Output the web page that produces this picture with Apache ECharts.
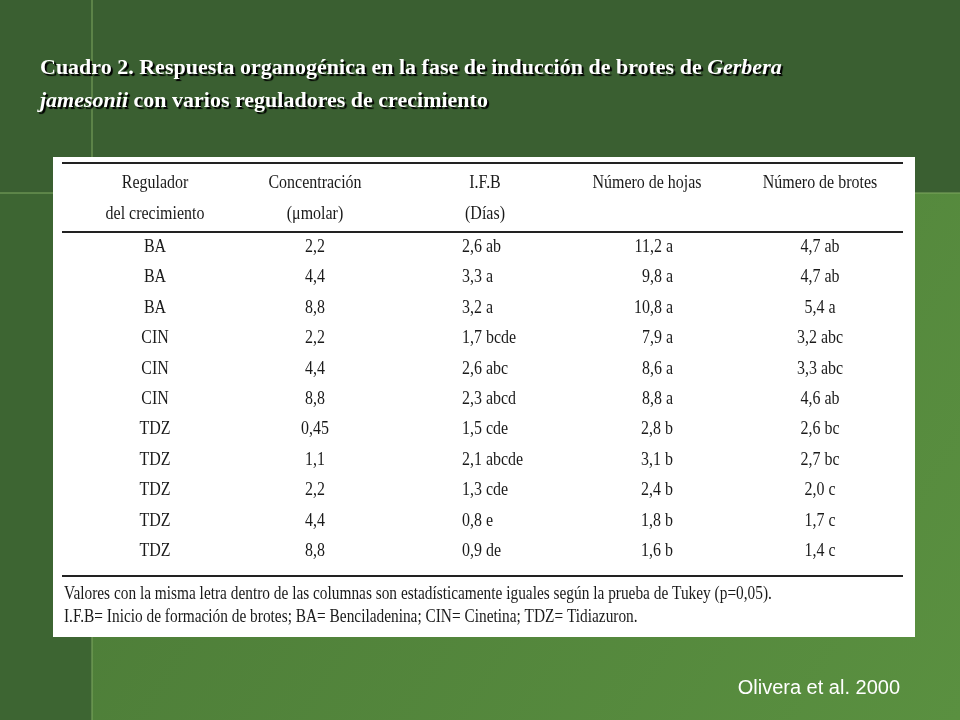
<!DOCTYPE html><html><head><meta charset="utf-8"><script src="https://cdn.jsdelivr.net/npm/echarts@6/dist/echarts.min.js"></script>
<style>html,body{margin:0;padding:0;background:#3a5f31}#c{width:960px;height:720px}</style></head><body><div id="c"></div><script>
const headers1=["Regulador","Concentración","I.F.B","Número de hojas","Número de brotes"];
const headers2=["del crecimiento","(μmolar)","(Días)","",""];
const regulador=["BA","BA","BA","CIN","CIN","CIN","TDZ","TDZ","TDZ","TDZ","TDZ"];
const concentracion=["2,2","4,4","8,8","2,2","4,4","8,8","0,45","1,1","2,2","4,4","8,8"];
const ifb=["2,6 ab","3,3 a","3,2 a","1,7 bcde","2,6 abc","2,3 abcd","1,5 cde","2,1 abcde","1,3 cde","0,8 e","0,9 de"];
const hojas=["11,2 a","9,8 a","10,8 a","7,9 a","8,6 a","8,8 a","2,8 b","3,1 b","2,4 b","1,8 b","1,6 b"];
const brotes=["4,7 ab","4,7 ab","5,4 a","3,2 abc","3,3 abc","4,6 ab","2,6 bc","2,7 bc","2,0 c","1,7 c","1,4 c"];
const notes=["Valores con la misma letra dentro de las columnas son estadísticamente iguales según la prueba de Tukey (p=0,05).","I.F.B= Inicio de formación de brotes; BA= Benciladenina; CIN= Cinetina; TDZ= Tidiazuron."];
const cols=[regulador,concentracion,ifb,hojas,brotes];
const colX=[155,315,485,647,820];
const g=[];
g.push({type:'rect',shape:{x:92,y:193,width:868,height:527},style:{fill:new echarts.graphic.LinearGradient(0,0,1,1,[{offset:0,color:'#4b7a37'},{offset:1,color:'#5a9040'}])}});
g.push({type:'rect',shape:{x:0,y:193,width:92,height:527},style:{fill:'#3d6532'}});
g.push({type:'line',shape:{x1:92,y1:0,x2:92,y2:720},style:{stroke:'#7fa860',lineWidth:1}});
g.push({type:'line',shape:{x1:0,y1:193,x2:960,y2:193},style:{stroke:'#7fa860',lineWidth:1}});
g.push({type:'rect',shape:{x:53,y:157,width:862,height:480},style:{fill:'#fff'}});
[163,232,576].forEach(y=>g.push({type:'line',shape:{x1:62,y1:y,x2:903,y2:y},style:{stroke:'#222',lineWidth:2}}));
const tf='19px "Liberation Serif", serif';
const SX=0.84;
function t(x,y,text,align,font){g.push({type:'text',x:x,y:y,scaleX:SX,style:{text:text,font:font||tf,fill:'#1a1a1a',align:align,verticalAlign:'middle'}});}
headers1.forEach((h,i)=>{t(colX[i],183,h,'center'); if(headers2[i])t(colX[i],214,headers2[i],'center');});
cols.forEach((c,i)=>c.forEach((v,r)=>{
 const y=247+r*30.4;
 const a=i==2?'left':i==3?'right':'center';
 const x=i==2?462:i==3?673:colX[i];
 t(x,y,v,a);
}));
notes.forEach((n,i)=>t(64,594+i*23,n,'left','18.3px "Liberation Serif", serif'));
const tsh={fill:'#fff',verticalAlign:'middle',textShadowColor:'#000',textShadowOffsetX:2,textShadowOffsetY:2,textShadowBlur:1};
const bf='bold 22px "Liberation Serif", serif', ib='italic bold 22px "Liberation Serif", serif';
g.push({type:'text',x:40,y:68,style:Object.assign({text:'Cuadro 2. Respuesta organogénica en la fase de inducción de brotes de {i|Gerbera}',font:bf,rich:{i:{font:ib,fill:'#fff'}}},tsh)});
g.push({type:'text',x:40,y:101,style:Object.assign({text:'{i|jamesonii} con varios reguladores de crecimiento',font:bf,rich:{i:{font:ib,fill:'#fff'}}},tsh)});
g.push({type:'text',x:900,y:688,style:{text:'Olivera et al. 2000',font:'20px "Liberation Sans", Arial, sans-serif',fill:'#fff',align:'right',verticalAlign:'middle'}});
const ch=echarts.init(document.getElementById('c'));
ch.setOption({backgroundColor:'#3a5f31',graphic:g});
</script></body></html>
